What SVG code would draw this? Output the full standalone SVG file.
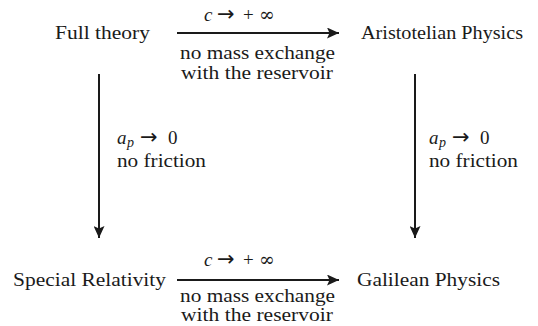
<svg xmlns="http://www.w3.org/2000/svg" width="538" height="326" viewBox="0 0 538 326">
<style>
.i{font-style:italic}
.s{font-size:14px;font-style:italic}
.c{stroke:#1a1a1a;stroke-width:2;fill:none}
</style>
<defs>
<marker id="ah" viewBox="0 0 12 11" refX="12" refY="5.5" markerWidth="12" markerHeight="11" markerUnits="userSpaceOnUse" orient="auto">
<path d="M0,0 L12,5.5 L0,11 L2.5,5.5 Z" fill="#1a1a1a"/>
</marker>
</defs>
<rect width="538" height="326" fill="#fff"/>
<g id="full"><text style="font-family:'Liberation Serif',serif;font-size:19px;fill:#1a1a1a" x="55" y="39" textLength="95" lengthAdjust="spacingAndGlyphs">Full theory</text></g>
<g id="aristotelian"><text style="font-family:'Liberation Serif',serif;font-size:19px;fill:#1a1a1a" x="361" y="39" textLength="162" lengthAdjust="spacingAndGlyphs">Aristotelian Physics</text></g>
<g id="special"><text style="font-family:'Liberation Serif',serif;font-size:19px;fill:#1a1a1a" x="13" y="286" textLength="153" lengthAdjust="spacingAndGlyphs">Special Relativity</text></g>
<g id="galilean"><text style="font-family:'Liberation Serif',serif;font-size:19px;fill:#1a1a1a" x="357" y="286" textLength="143" lengthAdjust="spacingAndGlyphs">Galilean Physics</text></g>
<g id="connectors">
<line class="c" x1="177" y1="33" x2="339" y2="33" marker-end="url(#ah)"/>
<line class="c" x1="177" y1="280" x2="339" y2="280" marker-end="url(#ah)"/>
<line class="c" x1="99" y1="74" x2="99" y2="238" marker-end="url(#ah)"/>
<line class="c" x1="415" y1="74" x2="415" y2="238" marker-end="url(#ah)"/>
<text style="font-family:'Liberation Serif',serif;font-size:19px;fill:#1a1a1a" x="204" y="21"><tspan style="font-style:italic">c</tspan><tspan style="font-family:'DejaVu Sans',sans-serif;font-size:21px" x="217">→</tspan><tspan x="243">+</tspan><tspan style="font-family:'DejaVu Serif',serif" x="259">∞</tspan></text>
<text style="font-family:'Liberation Serif',serif;font-size:19px;fill:#1a1a1a" x="180" y="59" textLength="155" lengthAdjust="spacingAndGlyphs">no mass exchange</text>
<text style="font-family:'Liberation Serif',serif;font-size:19px;fill:#1a1a1a" x="181" y="79" textLength="152" lengthAdjust="spacingAndGlyphs">with the reservoir</text>
<text style="font-family:'Liberation Serif',serif;font-size:19px;fill:#1a1a1a" x="204" y="266"><tspan style="font-style:italic">c</tspan><tspan style="font-family:'DejaVu Sans',sans-serif;font-size:21px" x="217">→</tspan><tspan x="243">+</tspan><tspan style="font-family:'DejaVu Serif',serif" x="259">∞</tspan></text>
<text style="font-family:'Liberation Serif',serif;font-size:19px;fill:#1a1a1a" x="180" y="302" textLength="155" lengthAdjust="spacingAndGlyphs">no mass exchange</text>
<text style="font-family:'Liberation Serif',serif;font-size:19px;fill:#1a1a1a" x="181" y="321" textLength="152" lengthAdjust="spacingAndGlyphs">with the reservoir</text>
<text style="font-family:'Liberation Serif',serif;font-size:19px;fill:#1a1a1a" x="117" y="144"><tspan style="font-style:italic">a</tspan><tspan style="font-size:14px;font-style:italic" x="127" dy="3">p</tspan><tspan style="font-family:'DejaVu Sans',sans-serif;font-size:21px" x="140" dy="-3">→</tspan><tspan x="168">0</tspan></text>
<text style="font-family:'Liberation Serif',serif;font-size:19px;fill:#1a1a1a" x="117" y="167" textLength="89" lengthAdjust="spacingAndGlyphs">no friction</text>
<text style="font-family:'Liberation Serif',serif;font-size:19px;fill:#1a1a1a" x="429" y="144"><tspan style="font-style:italic">a</tspan><tspan style="font-size:14px;font-style:italic" x="439" dy="3">p</tspan><tspan style="font-family:'DejaVu Sans',sans-serif;font-size:21px" x="452" dy="-3">→</tspan><tspan x="480">0</tspan></text>
<text style="font-family:'Liberation Serif',serif;font-size:19px;fill:#1a1a1a" x="429" y="167" textLength="89" lengthAdjust="spacingAndGlyphs">no friction</text>
</g>
</svg>
